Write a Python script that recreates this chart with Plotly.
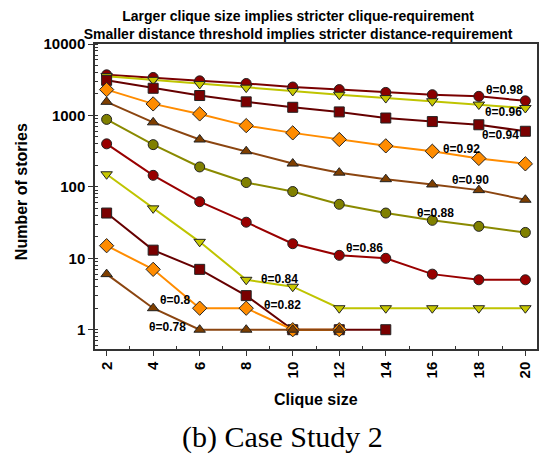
import math
import plotly.graph_objects as go

clique_sizes = [2, 4, 6, 8, 10, 12, 14, 16, 18, 20]
thetas = ["0.98", "0.96", "0.94", "0.92", "0.90", "0.88", "0.86", "0.84", "0.82", "0.8", "0.78"]

stories = {
    "0.98": [3700, 3400, 3050, 2800, 2500, 2300, 2100, 1950, 1850, 1600],
    "0.96": [3550, 3150, 2750, 2450, 2200, 1950, 1750, 1580, 1420, 1270],
    "0.94": [3100, 2400, 1900, 1550, 1300, 1120, 920, 820, 740, 600],
    "0.92": [2300, 1450, 1050, 720, 570, 460, 375, 315, 250, 210],
    "0.90": [1550, 800, 460, 315, 212, 158, 128, 108, 90, 66],
    "0.88": [880, 390, 190, 115, 86, 57, 43, 34, 28, 23],
    "0.86": [400, 145, 62, 32, 16, 11, 10, 6, 5, 5],
    "0.84": [150, 50, 17, 5, 4, 2, 2, 2, 2, 2],
    "0.82": [43, 13, 7, 3, 1, 1, 1],
    "0.8": [15, 7, 2, 2, 1, 1],
    "0.78": [6, 2, 1, 1, 1, 1],
}

# label positions (x, y) for the theta annotations
label_pos = {
    "0.98": (19.1, 2300), "0.96": (19.05, 1100), "0.94": (18.95, 535),
    "0.92": (17.25, 340), "0.90": (17.65, 125), "0.88": (16.15, 43),
    "0.86": (13.1, 13.8), "0.84": (9.45, 5.2), "0.82": (9.55, 2.25),
    "0.8": (4.95, 2.6), "0.78": (4.6, 1.08),
}

styles = {
    "0.98": ("circle", "#8B0000", "#7A0000"),
    "0.96": ("triangle-down", "#C8C800", "#BFC400"),
    "0.94": ("square", "#7A0000", "#660000"),
    "0.92": ("diamond", "#FF8C00", "#FF8C00"),
    "0.90": ("triangle-up", "#7F3F00", "#8B4510"),
    "0.88": ("circle", "#808000", "#8A8A00"),
    "0.86": ("circle", "#990000", "#990000"),
    "0.84": ("triangle-down", "#C8C800", "#BFC400"),
    "0.82": ("square", "#7A0000", "#660000"),
    "0.8": ("diamond", "#FF8C00", "#FF8C00"),
    "0.78": ("triangle-up", "#7F3F00", "#8B4510"),
}

fig = go.Figure()
for t in thetas:
    ys = stories[t]
    sym, fill, lc = styles[t]
    fig.add_trace(go.Scatter(
        x=clique_sizes[:len(ys)], y=ys, mode="lines+markers",
        line=dict(color=lc, width=2),
        marker=dict(symbol=sym, size=10 if sym != "diamond" else 11, color=fill,
                    line=dict(color="#222222", width=1)),
        showlegend=False,
    ))

bold = dict(family="Liberation Sans, Arial", color="black", weight="bold")

annotations = []
for t in thetas:
    lx, ly = label_pos[t]
    annotations.append(dict(x=lx, y=math.log10(ly), xref="x", yref="y",
                            text="θ=" + t, showarrow=False,
                            font=dict(size=12, **bold)))

annotations.append(dict(x=0.5, y=-0.2, xref="paper", yref="paper",
                        text="Clique size", showarrow=False,
                        font=dict(size=16, **bold)))
annotations.append(dict(x=-0.19, y=0.516, xref="paper", yref="paper",
                        text="Number of stories", textangle=-90, showarrow=False,
                        font=dict(size=16, **bold)))
annotations.append(dict(x=0.425, y=-0.35, xref="paper", yref="paper",
                        text="(b) Case Study 2", showarrow=False,
                        font=dict(size=30, family="Liberation Serif, Times New Roman", color="black")))

fig.update_layout(
    width=544, height=463,
    margin=dict(l=95, r=5, t=44, b=114),
    paper_bgcolor="white", plot_bgcolor="white",
    title=dict(text="Larger clique size implies stricter clique-requirement<br>Smaller distance threshold implies stricter distance-requirement",
               x=0.548, xanchor="center", y=0.955, yanchor="middle", yref="container",
               font=dict(size=14, **bold)),
    annotations=annotations,
)

fig.update_xaxes(
    range=[1.5, 20.5], tickvals=clique_sizes, ticktext=[str(v) for v in clique_sizes],
    tickangle=-90, tickfont=dict(size=15, **bold),
    ticks="outside", ticklen=5, tickcolor="#333", showgrid=False, zeroline=False,
    showline=True, linecolor="#333", linewidth=1.5, mirror=True,
    minor=dict(tickvals=[3, 5, 7, 9, 11, 13, 15, 17, 19], ticks="inside", ticklen=3, tickcolor="#333"),
)
fig.update_yaxes(
    type="log", range=[-0.27, 4.0],
    tickvals=[1, 10, 100, 1000, 10000], ticktext=["1", "10", "100", "1000", "10000"],
    tickfont=dict(size=15, **bold),
    ticks="outside", ticklen=5, tickcolor="#333", showgrid=False, zeroline=False,
    showline=True, linecolor="#333", linewidth=1.5, mirror=True,
    minor=dict(ticks="inside", ticklen=3, tickcolor="#333", dtick="D1", showgrid=False),
)

fig.write_html("out.html")
